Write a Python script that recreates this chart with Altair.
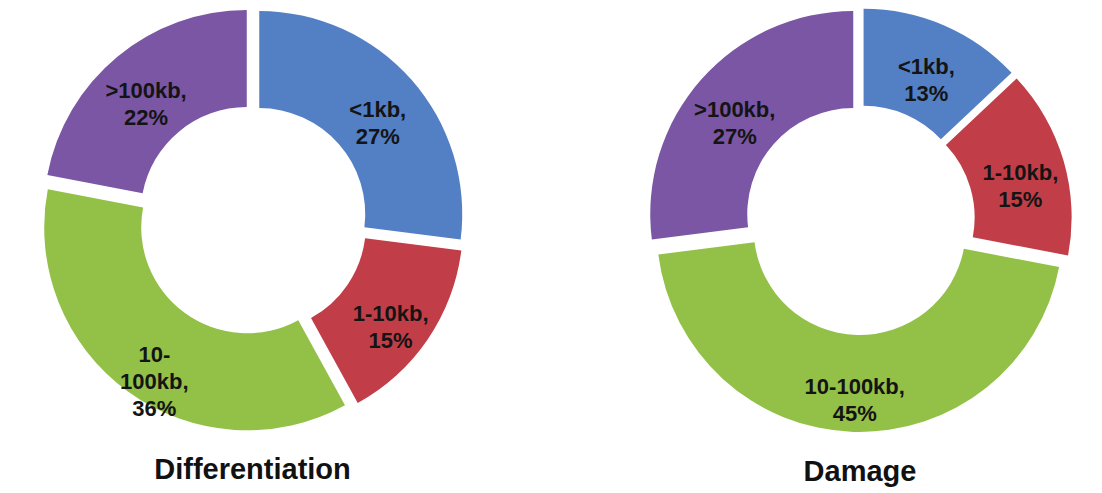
import altair as alt
import pandas as pd

categories = ["<1kb", "1-10kb", "10-100kb", ">100kb"]
diff_values = [27, 15, 36, 22]
damage_values = [13, 15, 45, 27]
diff_names = ["<1kb,", "1-10kb,", "10-\n100kb,", ">100kb,"]
damage_names = ["<1kb,", "1-10kb,", "10-100kb,", ">100kb,"]
colors = ["#537FC4", "#C13E48", "#93C047", "#7A56A4"]

FONT = "Liberation Sans"
EXPLODE = 9


def make_df(values, names):
    return pd.DataFrame({
        "idx": list(range(len(categories))),
        "cat": categories,
        "value": values,
        "label": [f"{n}\n{v}%" for n, v in zip(names, values)],
    })


def donut(values, names, title, width, height):
    base = alt.Chart(make_df(values, names)).transform_window(
        cum="sum(value)", sort=[alt.SortField("idx", order="ascending")], frame=[None, 0]
    ).transform_joinaggregate(
        total="sum(value)"
    ).transform_calculate(
        start="(datum.cum - datum.value) / datum.total",
        end="datum.cum / datum.total",
        midf="(datum.cum - datum.value / 2) / datum.total",
    ).transform_calculate(
        dx=f"{EXPLODE} * sin(datum.midf * 2 * PI)",
        dy=f"-{EXPLODE} * cos(datum.midf * 2 * PI)",
    ).encode(
        xOffset=alt.XOffset("dx:Q", scale=None),
        yOffset=alt.YOffset("dy:Q", scale=None),
    )
    tscale = alt.Scale(domain=[0, 1], range=[0, 6.283185307179586])
    arcs = base.mark_arc(outerRadius=203, innerRadius=106).encode(
        theta=alt.Theta("start:Q", scale=tscale, stack=None),
        theta2="end:Q",
        color=alt.Color("cat:N", scale=alt.Scale(domain=categories, range=colors), legend=None),
    )
    text = base.mark_text(
        radius=158, font=FONT, fontSize=22, fontWeight="bold", color="#141414",
        lineBreak="\n", lineHeight=27, align="center", baseline="middle",
    ).encode(
        theta=alt.Theta("midf:Q", scale=tscale, stack=None),
        text="label:N",
    )
    return alt.layer(arcs, text).properties(
        width=width, height=height,
        title=alt.TitleParams(
            title, orient="bottom", anchor="middle", fontSize=29, fontWeight="bold",
            font=FONT, color="#111111", offset=26,
        ),
    )


left = donut(diff_values, diff_names, "Differentiation", 489, 420)
right = donut(damage_values, damage_names, "Damage", 440, 420)

chart = alt.hconcat(left, right, spacing=143).properties(
    padding={"left": 0, "top": 0, "right": 0, "bottom": 0}
).configure_view(strokeWidth=0)

chart.save("out.html", embed_options={"renderer": "svg", "actions": False})
